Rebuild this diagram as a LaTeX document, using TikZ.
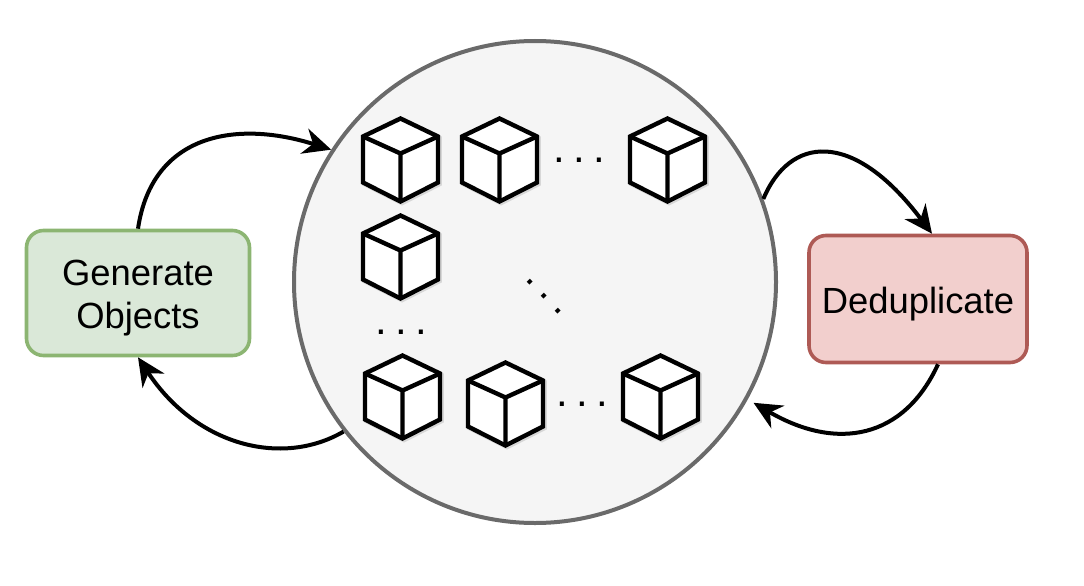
\documentclass[tikz,border=0pt]{standalone}
\usepackage{fontspec}
\setmainfont{Liberation Sans}
\usetikzlibrary{arrows.meta,calc}
\definecolor{gfill}{HTML}{DAE8D8}
\definecolor{gline}{HTML}{8CB572}
\definecolor{rfill}{HTML}{F2CFCD}
\definecolor{rline}{HTML}{AE5A55}
\definecolor{cfill}{HTML}{F5F5F5}
\definecolor{cline}{HTML}{6A6A6A}
\tikzset{
 px/.style={x=1pt,y=-1pt},
 flowbox/.style={rounded corners=17pt,line width=3.6pt,minimum width=223pt,align=center,inner sep=0pt,
   font=\fontsize{36.4pt}{43pt}\selectfont},
 bigcircle/.style={circle,draw=cline,fill=cfill,line width=4pt,minimum size=482pt,inner sep=0pt},
 flow/.style={line width=4pt,-{Stealth[length=28pt,width=26pt,inset=9pt]}},
 dotrow/.style={inner sep=0pt,font=\fontsize{42pt}{42pt}\selectfont},
 cubeface/.style={draw=black,line width=4.4pt,line join=miter,fill=white},
 softshadow/.style={draw=black,opacity=0.12,line width=4.6pt,line join=miter},
 pics/cube/.style={code={
   \path[softshadow,fill=black] (-37.5,-23) -- (0,-41) -- (37.5,-23) -- (37.5,23) -- (0,42) -- (-37.5,23) -- cycle;
   \begin{scope}[shift={(-1.5,-1.5)}]
   \path[cubeface] (-37.5,-23) -- (0,-41) -- (37.5,-23) -- (37.5,23) -- (0,42) -- (-37.5,23) -- cycle;
   \draw[cubeface,fill=none] (-37.5,-23) -- (0,-6) -- (37.5,-23) (0,-6) -- (0,42);
   \end{scope}
 }}
}
\begin{document}
\begin{tikzpicture}[px]
\useasboundingbox (0,0) rectangle (1084,586);
\node[bigcircle] (c) at (535,282) {};
\node[flowbox,draw=gline,fill=gfill,minimum height=125pt] (gen) at (138,293) {\rule{0pt}{36pt}Generate\\Objects};
\node[flowbox,draw=rline,fill=rfill,minimum width=218pt,minimum height=127pt] (ded) at (918,299) {\rule{0pt}{36pt}Deduplicate};
\foreach \x/\y in {402/161,501/161,669/161,402/258,404/398,507/405,662/398}{
  \pic[px] at (\x,\y) {cube};
}
\node[dotrow] (d1) at (579,160.5) {.\hspace{8.3pt}.\hspace{8.3pt}.};
\node[dotrow] (d2) at (401,332) {.\hspace{8.3pt}.\hspace{8.3pt}.};
\node[dotrow] (d3) at (582,404) {.\hspace{8.3pt}.\hspace{8.3pt}.};
\node[dotrow,rotate=-46] (d4) at (544,296.5) {.\hspace{8.3pt}.\hspace{8.3pt}.};
\draw[flow] (gen.north) .. controls ($(gen.north)+(14,-95)$) and ($(c.147.5)+(-95,-30)$) .. (c.147.5);
\draw[flow] (c.218) .. controls ($(c.218)+(-62,36)$) and ($(gen.south)+(58,88)$) .. (gen.south);
\draw[flow] (c.20.4) .. controls ($(c.20.4)+(26,-62)$) and ($(ded.north)+(-66,-106)$) .. ($(ded.north)+(14,0)$);
\draw[flow] ($(ded.south)+(20,0)$) .. controls ($(ded.south)+(-14,74)$) and ($(c.-29.7)+(90,52)$) .. ($(c.-29.7)+(6,3)$);
\end{tikzpicture}
\end{document}
